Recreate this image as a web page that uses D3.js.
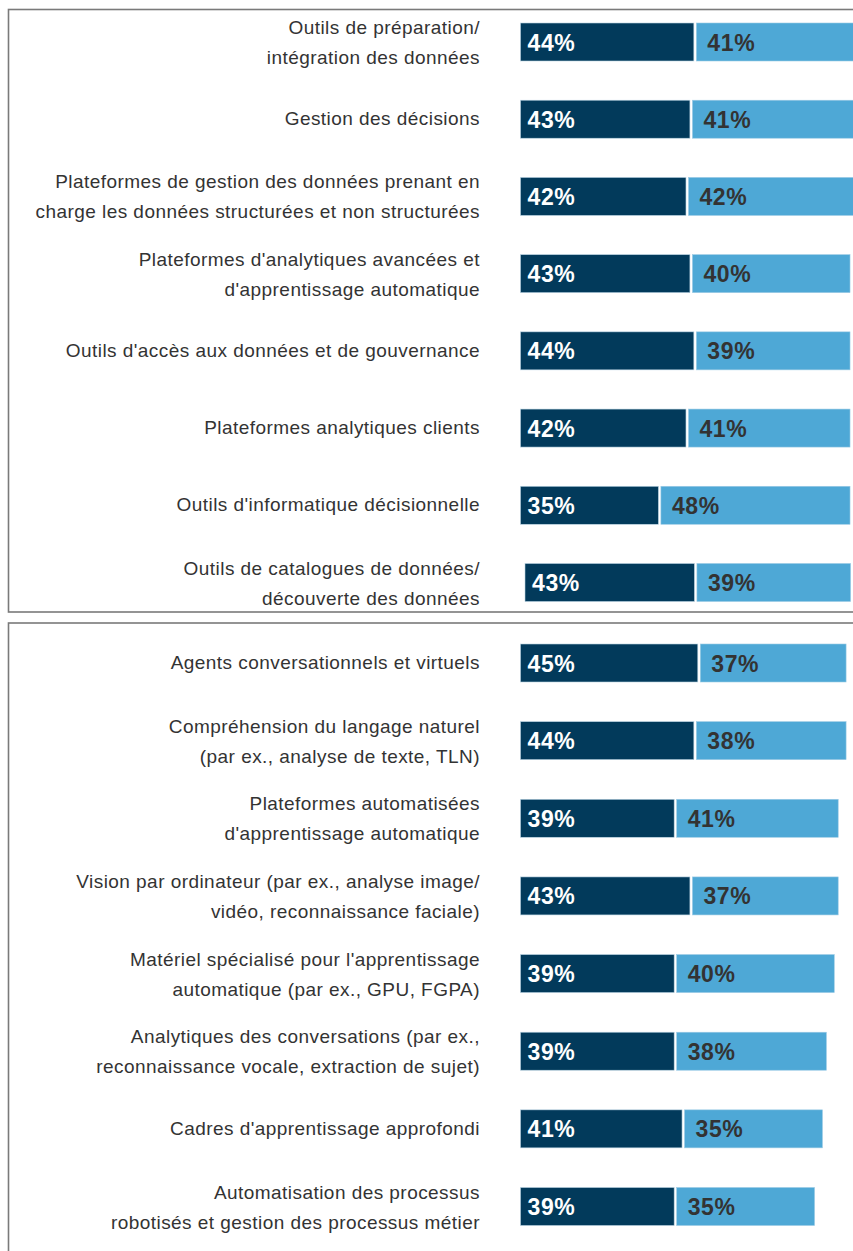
<!DOCTYPE html>
<html>
<head>
<meta charset="utf-8">
<script src="https://cdn.jsdelivr.net/npm/d3@7"></script>
<style>
  html, body { margin: 0; padding: 0; background: #fff; overflow: hidden; }
  svg { display: block; }
</style>
</head>
<body>
<svg id="chart" width="853" height="1251"></svg>
<script>
// ---- Data ----
const topCategories = [
  "Outils de préparation/\nintégration des données",
  "Gestion des décisions",
  "Plateformes de gestion des données prenant en\ncharge les données structurées et non structurées",
  "Plateformes d'analytiques avancées et\nd'apprentissage automatique",
  "Outils d'accès aux données et de gouvernance",
  "Plateformes analytiques clients",
  "Outils d'informatique décisionnelle",
  "Outils de catalogues de données/\ndécouverte des données"
];
const topDark  = [44, 43, 42, 43, 44, 42, 35, 43];
const topLight = [41, 41, 42, 40, 39, 41, 48, 39];

const bottomCategories = [
  "Agents conversationnels et virtuels",
  "Compréhension du langage naturel\n(par ex., analyse de texte, TLN)",
  "Plateformes automatisées\nd'apprentissage automatique",
  "Vision par ordinateur (par ex., analyse image/\nvidéo, reconnaissance faciale)",
  "Matériel spécialisé pour l'apprentissage\nautomatique (par ex., GPU, FGPA)",
  "Analytiques des conversations (par ex.,\nreconnaissance vocale, extraction de sujet)",
  "Cadres d'apprentissage approfondi",
  "Automatisation des processus\nrobotisés et gestion des processus métier"
];
const bottomDark  = [45, 44, 39, 43, 39, 39, 41, 39];
const bottomLight = [37, 38, 41, 37, 40, 38, 35, 35];

// ---- Drawing ----
const svg = d3.select("#chart");
const DARK = "#023a5b", LIGHT = "#4ea8d6";
const x = d3.scaleLinear().domain([0, 100]).range([0, 394]);
const barH = 38, gap = 2.5, labelX = 480;
const FONT = "Liberation Sans, Arial, Helvetica, sans-serif";

// panel frames
svg.append("rect").attr("x", 8.5).attr("y", 9.5).attr("width", 900).attr("height", 602.5)
  .attr("fill", "none").attr("stroke", "#7a7a7a").attr("stroke-width", 1.6);
svg.append("rect").attr("x", 8.5).attr("y", 623).attr("width", 900).attr("height", 700)
  .attr("fill", "none").attr("stroke", "#7a7a7a").attr("stroke-width", 1.6);

function panel(cats, dark, light, yRange, startShift) {
  const y = d3.scalePoint().domain(d3.range(cats.length)).range(yRange);
  const rows = cats.map((c, i) => ({ c, d: dark[i], l: light[i], i }));
  const g = svg.append("g");
  const row = g.selectAll("g.row").data(rows).enter().append("g")
    .attr("transform", d => `translate(0,${y(d.i)})`);

  // labels
  row.each(function(d) {
    const lines = d.c.split("\n");
    const t = d3.select(this).append("text")
      .attr("text-anchor", "end")
      .attr("font-family", FONT)
      .attr("font-size", 19).attr("letter-spacing", 0.45).attr("fill", "#333");
    lines.forEach((ln, k) => {
      t.append("tspan").attr("x", labelX)
        .attr("y", 6 + (k - (lines.length - 1) / 2) * 30 + (lines.length > 1 ? 1 : 0))
        .text(ln);
    });
  });

  const x0 = d => 520.5 + (startShift[d.i] || 0);
  // dark bars
  row.append("rect").attr("x", x0).attr("y", -barH / 2)
    .attr("width", d => x(d.d)).attr("height", barH)
    .attr("fill", DARK).attr("stroke", "#b9d3e2").attr("stroke-width", 0.6);
  // light bars
  row.append("rect").attr("x", d => x0(d) + x(d.d) + gap).attr("y", -barH / 2)
    .attr("width", d => x(d.l)).attr("height", barH)
    .attr("fill", LIGHT).attr("stroke", "#9ccbe5").attr("stroke-width", 0.6);

  row.append("text").attr("x", d => x0(d) + 7).attr("y", 8.5)
    .attr("font-family", FONT).attr("font-weight", "bold").attr("font-size", 23)
    .attr("letter-spacing", 0.6).attr("fill", "#fff")
    .text(d => d.d + "%");
  row.append("text").attr("x", d => x0(d) + x(d.d) + gap + 11).attr("y", 8.5)
    .attr("font-family", FONT).attr("font-weight", "bold").attr("font-size", 23)
    .attr("letter-spacing", 0.6).attr("fill", "#333")
    .text(d => d.l + "%");
}

panel(topCategories, topDark, topLight, [42, 582.5], { 7: 4.5 });
panel(bottomCategories, bottomDark, bottomLight, [663, 1206.5], {});
</script>
</body>
</html>
